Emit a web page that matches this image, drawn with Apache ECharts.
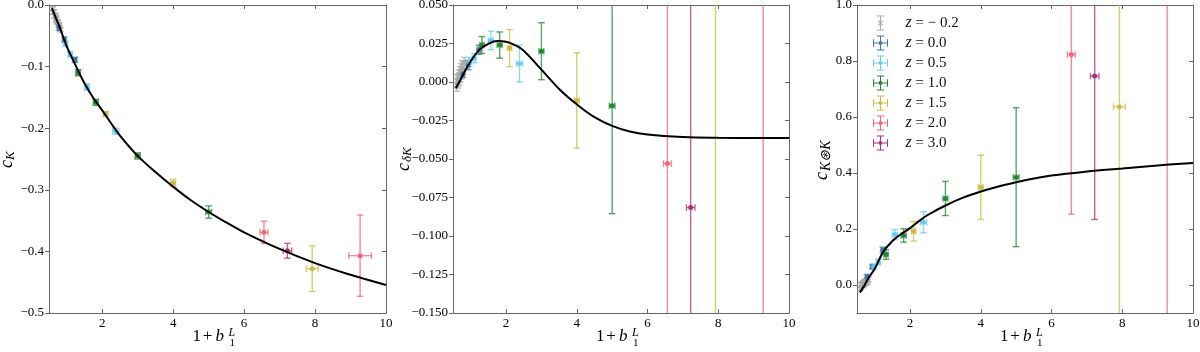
<!DOCTYPE html>
<html>
<head>
<meta charset="utf-8">
<script src="https://cdn.jsdelivr.net/npm/echarts@6/dist/echarts.min.js"></script>
<style>
  html, body { margin: 0; padding: 0; background: #fff; }
  #chart { width: 1200px; height: 352px; }
</style>
</head>
<body>
<div id="chart"></div>
<script>
// legend names and colours, one per redshift
const zNames = ['z = − 0.2', 'z = 0.0', 'z = 0.5', 'z = 1.0', 'z = 1.5', 'z = 2.0', 'z = 3.0'];
const zColors = ['#aaaaaa', '#4477aa', '#66ccee', '#228833', '#ccbb44', '#ee6677', '#aa3377'];

// 1 + b1^L (x) and its error, per redshift
const b1_zm02 = [0.60, 0.62, 0.64, 0.66, 0.68, 0.70, 0.71, 0.73, 0.75, 0.77, 0.79, 0.82];
const b1err_zm02 = [0.02, 0.02, 0.02, 0.02, 0.02, 0.02, 0.02, 0.02, 0.02, 0.02, 0.02, 0.02];
const b1_z00 = [0.78, 0.93, 1.23];
const b1err_z00 = [0.03, 0.04, 0.05];
const b1_z05 = [0.97, 1.10, 1.57, 2.38];
const b1err_z05 = [0.04, 0.05, 0.07, 0.09];
const b1_z10 = [1.32, 1.82, 3.00, 5.00];
const b1err_z10 = [0.06, 0.07, 0.07, 0.08];
const b1_z15 = [2.10, 4.00, 7.92];
const b1err_z15 = [0.06, 0.07, 0.17];
const b1_z20 = [6.56, 9.27];
const b1err_z20 = [0.11, 0.32];
const b1_z30 = [7.22];
const b1err_z30 = [0.12];

// c_K
const cK_zm02 = [-0.006, -0.012, -0.011, -0.018, -0.017, -0.024, -0.021, -0.027, -0.028, -0.033, -0.032, -0.040];
const cKerr_zm02 = [0.003, 0.003, 0.003, 0.003, 0.003, 0.003, 0.003, 0.003, 0.003, 0.003, 0.003, 0.003];
const cK_z00 = [-0.037, -0.056, -0.089];
const cKerr_z00 = [0.004, 0.004, 0.004];
const cK_z05 = [-0.063, -0.080, -0.133, -0.205];
const cKerr_z05 = [0.004, 0.004, 0.005, 0.005];
const cK_z10 = [-0.110, -0.158, -0.245, -0.336];
const cKerr_z10 = [0.005, 0.005, 0.005, 0.010];
const cK_z15 = [-0.177, -0.289, -0.428];
const cKerr_z15 = [0.004, 0.006, 0.037];
const cK_z20 = [-0.369, -0.407];
const cKerr_z20 = [0.018, 0.066];
const cK_z30 = [-0.399];
const cKerr_z30 = [0.012];

// c_deltaK
const cdK_zm02 = [-0.002, 0.001, 0.000, 0.004, 0.002, 0.006, 0.004, 0.008, 0.006, 0.010, 0.009, 0.012];
const cdKerr_zm02 = [0.004, 0.004, 0.004, 0.004, 0.004, 0.004, 0.004, 0.004, 0.004, 0.004, 0.004, 0.004];
const cdK_z00 = [0.005, 0.011, 0.021];
const cdKerr_z00 = [0.002, 0.003, 0.003];
const cdK_z05 = [0.013, 0.0155, 0.027, 0.012];
const cdKerr_z05 = [0.003, 0.003, 0.006, 0.012];
const cdK_z10 = [0.024, 0.024, 0.020, -0.0155];
const cdKerr_z10 = [0.0055, 0.0085, 0.0185, 0.070];
const cdK_z15 = [0.022, -0.012, 0.100];
const cdKerr_z15 = [0.012, 0.031, 0.450];
const cdK_z20 = [-0.053, -0.200];
const cdKerr_z20 = [0.350, 0.500];
const cdK_z30 = [-0.0815];
const cdKerr_z30 = [0.300];

// c_K*K
const cKK_zm02 = [-0.012, 0.000, 0.004, -0.002, 0.006, 0.010, 0.003, 0.012, 0.008, 0.016, 0.011, 0.020];
const cKKerr_zm02 = [0.008, 0.008, 0.008, 0.008, 0.008, 0.008, 0.008, 0.008, 0.008, 0.008, 0.008, 0.008];
const cKK_z00 = [0.029, 0.065, 0.125];
const cKKerr_z00 = [0.008, 0.008, 0.010];
const cKK_z05 = [0.065, 0.082, 0.180, 0.224];
const cKKerr_z05 = [0.008, 0.010, 0.018, 0.038];
const cKK_z10 = [0.109, 0.177, 0.309, 0.385];
const cKKerr_z10 = [0.017, 0.024, 0.061, 0.248];
const cKK_z15 = [0.192, 0.349, 0.637];
const cKKerr_z15 = [0.035, 0.115, 0.900];
const cKK_z20 = [0.823, 1.200];
const cKKerr_z20 = [0.570, 1.500];
const cKK_z30 = [0.746];
const cKKerr_z30 = [0.512];

// model curves
const curveX = [0.58, 0.7, 0.8, 1.0, 1.25, 1.5, 1.75, 2.0, 2.25, 2.5, 3.0, 3.5, 4.0, 4.5, 5.0, 5.5, 6.0, 7.0, 8.0, 9.0, 10.0];
const curveK = [-0.005, -0.022, -0.036, -0.067, -0.098, -0.127, -0.151, -0.171, -0.192, -0.212, -0.245, -0.271, -0.295, -0.317, -0.336, -0.353, -0.369, -0.396, -0.419, -0.438, -0.4545];
const curveDK = [-0.004, 0.001, 0.0055, 0.0135, 0.021, 0.0248, 0.0266, 0.0262, 0.0240, 0.0203, 0.008, -0.0045, -0.0145, -0.0228, -0.0285, -0.0322, -0.0341, -0.0357, -0.0362, -0.0363, -0.0363];
const curveKK = [-0.027, -0.004, 0.020, 0.058, 0.120, 0.157, 0.182, 0.203, 0.228, 0.250, 0.284, 0.312, 0.334, 0.352, 0.367, 0.380, 0.391, 0.405, 0.416, 0.427, 0.436];

// tick values
const xTicks = [2, 4, 6, 8, 10];
const kkTicks = [0, 0.2, 0.4, 0.6, 0.8, 1.0];

const b1All = [b1_zm02, b1_z00, b1_z05, b1_z10, b1_z15, b1_z20, b1_z30];
const b1ErrAll = [b1err_zm02, b1err_z00, b1err_z05, b1err_z10, b1err_z15, b1err_z20, b1err_z30];
const panels = [
  { ys: [cK_zm02, cK_z00, cK_z05, cK_z10, cK_z15, cK_z20, cK_z30],
    errs: [cKerr_zm02, cKerr_z00, cKerr_z05, cKerr_z10, cKerr_z15, cKerr_z20, cKerr_z30],
    curve: curveK },
  { ys: [cdK_zm02, cdK_z00, cdK_z05, cdK_z10, cdK_z15, cdK_z20, cdK_z30],
    errs: [cdKerr_zm02, cdKerr_z00, cdKerr_z05, cdKerr_z10, cdKerr_z15, cdKerr_z20, cdKerr_z30],
    curve: curveDK },
  { ys: [cKK_zm02, cKK_z00, cKK_z05, cKK_z10, cKK_z15, cKK_z20, cKK_z30],
    errs: [cKKerr_zm02, cKKerr_z00, cKKerr_z05, cKKerr_z10, cKKerr_z15, cKKerr_z20, cKKerr_z30],
    curve: curveKK }
];

const font = '"Liberation Serif", serif';
const axisCol = '#666';
const xMarker = 'path://M0,1L1,0L10,9L9,10Z M9,0L10,1L1,10L0,9Z';
const errIcon = 'path://M0,9.3H20V10.7H0Z M0,5H1.4V15H0Z M18.6,5H20V15H18.6Z M9.3,0H10.7V20H9.3Z M5,0H15V1.4H5Z M5,18.6H15V20H5Z M12.6,10A2.6,2.6 0 1,1 7.4,10A2.6,2.6 0 1,1 12.6,10Z';
const xIcon = 'path://M0,10H0.01V10.01H0Z M19.99,10H20V10.01H19.99Z M9.3,0H10.7V20H9.3Z M5,0H15V1.4H5Z M5,18.6H15V20H5Z M6.5,7.5L7.5,6.5L13.5,12.5L12.5,13.5Z M12.5,6.5L13.5,7.5L7.5,13.5L6.5,12.5Z';

const chart = echarts.init(document.getElementById('chart'));

function fmt(d) {
  return v => (v < -1e-9 ? '−' : '') + Math.abs(v).toFixed(d);
}

// error bars with caps, matplotlib style
function renderErr(params, api) {
  const x = api.value(0), y = api.value(1), xe = api.value(2), ye = api.value(3);
  const col = api.visual('color');
  const l = api.coord([x - xe, y]), r = api.coord([x + xe, y]);
  const t = api.coord([x, y + ye]), b = api.coord([x, y - ye]);
  const cap = 3.3;
  const st = { stroke: col, lineWidth: 1.4, opacity: 0.75 };
  const seg = (x1, y1, x2, y2) => ({ type: 'line', shape: { x1, y1, x2, y2 }, style: st });
  return {
    type: 'group',
    children: [
      seg(l[0], l[1], r[0], r[1]),
      seg(l[0], l[1] - cap, l[0], l[1] + cap),
      seg(r[0], r[1] - cap, r[0], r[1] + cap),
      seg(t[0], t[1], b[0], b[1]),
      seg(t[0] - cap, t[1], t[0] + cap, t[1]),
      seg(b[0] - cap, b[1], b[0] + cap, b[1])
    ]
  };
}

const grids = [
  { left: 49, top: 5, width: 337, height: 308 },
  { left: 453, top: 5, width: 336, height: 308 },
  { left: 857, top: 5, width: 336, height: 308 }
];
grids.forEach(g => { g.outerBoundsMode = 'none'; });

const yRanges = [
  { min: -0.5, max: 0, interval: 0.1, digits: 1 },
  { min: -0.15, max: 0.05, interval: 0.025, digits: 3 },
  { min: -0.1, max: 1.0, custom: kkTicks, digits: 1 }
];

const labelStyle = { fontFamily: font, fontSize: 13, color: '#000' };

const xAxes = [], yAxes = [];
for (let g = 0; g < 3; g++) {
  [false, true].forEach(top => {
    xAxes.push({
      type: 'value', gridIndex: g, position: top ? 'top' : 'bottom',
      min: 0.5, max: 10,
      axisLine: { show: true, onZero: false, lineStyle: { color: axisCol, width: 1 } },
      axisTick: { show: true, inside: true, length: 4, customValues: xTicks, lineStyle: { color: axisCol } },
      axisLabel: Object.assign({ show: !top, customValues: xTicks, margin: 4 }, labelStyle),
      splitLine: { show: false }
    });
  });
  const yr = yRanges[g];
  [false, true].forEach(right => {
    const ax = {
      type: 'value', gridIndex: g, position: right ? 'right' : 'left',
      min: yr.min, max: yr.max,
      axisLine: { show: true, onZero: false, lineStyle: { color: axisCol, width: 1 } },
      axisTick: { show: true, inside: right, length: 4, lineStyle: { color: axisCol } },
      axisLabel: Object.assign({ show: !right, margin: 5, formatter: fmt(yr.digits) }, labelStyle),
      splitLine: { show: false }
    };
    if (yr.custom) {
      ax.axisTick.customValues = yr.custom;
      ax.axisLabel.customValues = yr.custom;
    } else {
      ax.interval = yr.interval;
    }
    yAxes.push(ax);
  });
}

const series = [];
panels.forEach((p, g) => {
  series.push({
    type: 'line', xAxisIndex: 2 * g, yAxisIndex: 2 * g,
    data: curveX.map((x, i) => [x, p.curve[i]]),
    smooth: 0.4, showSymbol: false, silent: true,
    lineStyle: { color: '#000', width: 2 }, z: 5
  });
  for (let k = 0; k < 7; k++) {
    const data = b1All[k].map((x, i) => [x, p.ys[k][i], b1ErrAll[k][i], p.errs[k][i]]);
    series.push({
      type: 'custom', name: zNames[k], xAxisIndex: 2 * g, yAxisIndex: 2 * g,
      clip: true, silent: true,
      data: data, encode: { x: 0, y: 1 },
      itemStyle: { color: zColors[k] },
      renderItem: renderErr, z: 3
    });
    series.push({
      type: 'scatter', name: zNames[k], xAxisIndex: 2 * g, yAxisIndex: 2 * g,
      data: data.map(d => [d[0], d[1]]),
      symbol: k === 0 ? xMarker : 'circle', symbolSize: k === 0 ? 6 : 5,
      itemStyle: { color: zColors[k], opacity: 1 }, silent: true, z: 4
    });
  }
});

// axis titles drawn as small pieces of text
function t(text, x, y, size, italic, align) {
  return {
    type: 'text', x: x, y: y,
    style: {
      text: text, fontFamily: font, fontSize: size, fontStyle: italic ? 'italic' : 'normal',
      fill: '#000', align: align || 'left', verticalAlign: 'middle'
    }
  };
}
function xName(cx) {
  return {
    type: 'group', x: cx, y: 337, children: [
      t('1', -25, 0, 17, false),
      t('+', -10, 0, 17, false, 'center'),
      t('b', -2, -0.5, 17, true),
      t('L', 11, -4, 12, true),
      t('1', 12, 6, 11, false)
    ]
  };
}
function yName(x, y, sub, start, subStart, subSize) {
  return {
    type: 'group', x: x, y: y, rotation: Math.PI / 2, children: [
      t('c', start, 0, 18, true),
      t(sub, subStart, 4, subSize, true)
    ]
  };
}

chart.setOption({
  animation: false,
  backgroundColor: '#fff',
  grid: grids,
  xAxis: xAxes,
  yAxis: yAxes,
  legend: {
    left: 873, top: 15, orient: 'vertical', padding: 0,
    itemWidth: 16, itemHeight: 15, itemGap: 4, selectedMode: false,
    data: zNames.map((n, k) => ({ name: n, icon: k === 0 ? xIcon : errIcon })),
    formatter: n => '{p|}{i|z}{t|' + n.slice(1) + '}',
    textStyle: {
      fontFamily: font, fontSize: 15, color: '#111', lineHeight: 15,
      rich: {
        p: { width: 12, lineHeight: 15 },
        i: { fontStyle: 'italic', fontFamily: font, fontSize: 16, color: '#111', lineHeight: 15 },
        t: { fontFamily: font, fontSize: 15, color: '#111', lineHeight: 15 }
      }
    }
  },
  graphic: [
    xName(217.5), xName(621), xName(1025),
    yName(7, 160, 'K', -8, 0, 13),
    yName(404, 154, 'δK', -17, -8, 13),
    yName(822, 152, 'K⊛K', -28, -19, 14)
  ],
  series: series
});
</script>
</body>
</html>
